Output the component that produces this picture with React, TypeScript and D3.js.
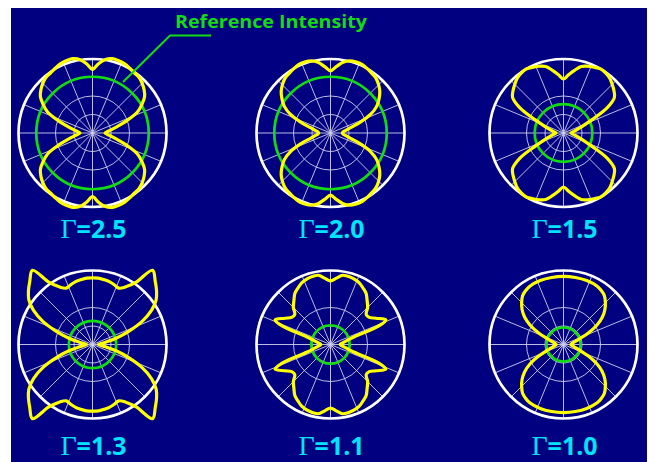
import React from "react";
import * as d3 from "d3";

// Pattern labels (Γ values), in reading order: top row then bottom row.
const GAMMAS = ["2.5", "2.0", "1.5", "1.3", "1.1", "1.0"];

// Reference intensity level of each pattern, as a fraction of the outer ring.
const REFERENCE_LEVELS = [0.76, 0.76, 0.39, 0.32, 0.26, 0.23];

// One quadrant of each angular intensity profile: [angle from vertical (deg), relative radius].
// The patterns are symmetric about both axes, so the quadrant is mirrored to close the curve.
const PROFILE_25 = [[0, 0.86], [5, 0.94], [10, 1.01], [15, 1.04], [20, 1.04], [25, 1.03], [30, 1.01], [35, 0.99], [40, 0.98], [45, 0.95], [50, 0.91], [55, 0.86], [60, 0.77], [65, 0.67], [70, 0.5], [75, 0.35], [80, 0.26], [85, 0.2], [90, 0.17]];
const PROFILE_20 = [[0, 0.84], [5, 0.9], [10, 0.97], [15, 1.01], [20, 1.02], [25, 1.02], [30, 1.0], [35, 0.98], [40, 0.96], [45, 0.92], [50, 0.87], [55, 0.8], [60, 0.72], [65, 0.6], [70, 0.43], [75, 0.28], [80, 0.21], [85, 0.17], [90, 0.16]];
const PROFILE_15 = [[0, 0.73], [5, 0.79], [10, 0.86], [15, 0.93], [20, 0.96], [25, 0.98], [30, 1.0], [35, 0.99], [40, 0.97], [45, 0.93], [50, 0.89], [55, 0.84], [60, 0.68], [65, 0.42], [70, 0.28], [75, 0.2], [80, 0.15], [85, 0.12], [90, 0.1]];
const PROFILE_13 = [[0, 0.9], [5, 0.9], [10, 0.89], [15, 0.88], [20, 0.86], [25, 0.84], [30, 0.9], [35, 1.03], [39, 1.29], [45, 1.2], [50, 1.13], [55, 1.05], [60, 0.92], [65, 0.74], [70, 0.52], [75, 0.33], [80, 0.18], [85, 0.11], [90, 0.08]];
const PROFILE_11 = [[0, 0.86], [5, 0.9], [10, 0.95], [15, 0.95], [20, 0.94], [25, 0.92], [30, 0.88], [35, 0.84], [40, 0.77], [45, 0.71], [50, 0.63], [55, 0.64], [60, 0.71], [66, 0.82], [69, 0.7], [72, 0.34], [77, 0.22], [83, 0.16], [90, 0.13]];
const PROFILE_10 = [[0, 0.92], [10, 0.92], [20, 0.92], [30, 0.91], [35, 0.89], [40, 0.86], [45, 0.8], [50, 0.73], [55, 0.64], [60, 0.52], [65, 0.37], [70, 0.24], [75, 0.17], [80, 0.13], [85, 0.11], [90, 0.1]];

const PROFILES = [PROFILE_25, PROFILE_20, PROFILE_15, PROFILE_13, PROFILE_11, PROFILE_10];

// Polar grid: ring levels and spoke angles.
const GRID_RINGS = [0.25, 0.5];
const SPOKE_ANGLES = d3.range(0, 360, 22.5);

const WIDTH = 654;
const HEIGHT = 462;
const R = 74;
const COL_X = [92.5, 330.5, 563.5];
const ROW_Y = [133, 344.5];
const LABEL_Y = [238, 455];

const YELLOW = "#ffff00";
const GREEN = "#11dd11";
const CYAN = "#00e4ff";
const NAVY = "#000080";

const rScale = d3.scaleLinear().domain([0, 1]).range([0, R]);
const toRad = (deg: number) => (deg * Math.PI) / 180;

// Mirror a quadrant profile into all four quadrants, ordered clockwise from the top.
function fullPattern(q: number[][]): [number, number][] {
  const pts: [number, number][] = [];
  q.forEach(([a, r]) => pts.push([a, r]));
  q.slice(0, -1).reverse().forEach(([a, r]) => pts.push([180 - a, r]));
  q.slice(1).forEach(([a, r]) => pts.push([180 + a, r]));
  q.slice(1, -1).reverse().forEach(([a, r]) => pts.push([360 - a, r]));
  return pts;
}

const radialLine = d3
  .lineRadial<[number, number]>()
  .angle((d) => toRad(d[0]))
  .radius((d) => rScale(d[1]))
  .curve(d3.curveCatmullRomClosed.alpha(0.5));

function PolarPanel({ index }: { index: number }) {
  const cx = COL_X[index % 3];
  const cy = ROW_Y[Math.floor(index / 3)];
  const ly = LABEL_Y[Math.floor(index / 3)];
  const path = radialLine(fullPattern(PROFILES[index])) || "";
  return (
    <g>
      <g transform={`translate(${cx},${cy})`}>
        {SPOKE_ANGLES.map((a) => (
          <line
            key={a}
            x1={0}
            y1={0}
            x2={rScale(1) * Math.sin(toRad(a))}
            y2={-rScale(1) * Math.cos(toRad(a))}
            stroke="#d0d0ee"
            strokeWidth={0.9}
          />
        ))}
        {GRID_RINGS.map((g) => (
          <circle key={g} r={rScale(g)} fill="none" stroke="#d0d0ee" strokeWidth={0.9} />
        ))}
        <circle r={rScale(1)} fill="none" stroke="#ffffff" strokeWidth={2.7} />
        <circle r={rScale(REFERENCE_LEVELS[index])} fill="none" stroke={GREEN} strokeWidth={2.7} />
        <path d={path} fill="none" stroke={YELLOW} strokeWidth={3.2} strokeLinejoin="round" />
      </g>
      <text x={cx + 1} y={ly} textAnchor="middle" fill={CYAN} fontFamily="'Open Sans', sans-serif" fontWeight={700} fontSize={25}>
        <tspan fontFamily="'Liberation Serif', serif" fontWeight={400} fontSize={28}>Γ</tspan>
        <tspan>={GAMMAS[index]}</tspan>
      </text>
    </g>
  );
}

export default function App() {
  return (
    <svg
      width={WIDTH}
      height={HEIGHT}
      style={{ position: "absolute", left: 0, top: 0, display: "block" }}
    >
      <rect x={0} y={0} width={WIDTH} height={HEIGHT} fill="#ffffff" />
      <rect x={11} y={8} width={636} height={454} fill={NAVY} />
      {GAMMAS.map((_, i) => (
        <PolarPanel key={i} index={i} />
      ))}
      <polyline points="211,35.5 170,35.5 123,82" fill="none" stroke={GREEN} strokeWidth={2} />
      <text x={175} y={28} fill={GREEN} fontFamily="'Open Sans', sans-serif" fontWeight={700} fontSize={18} textLength={192} lengthAdjust="spacingAndGlyphs">
        Reference Intensity
      </text>
    </svg>
  );
}
